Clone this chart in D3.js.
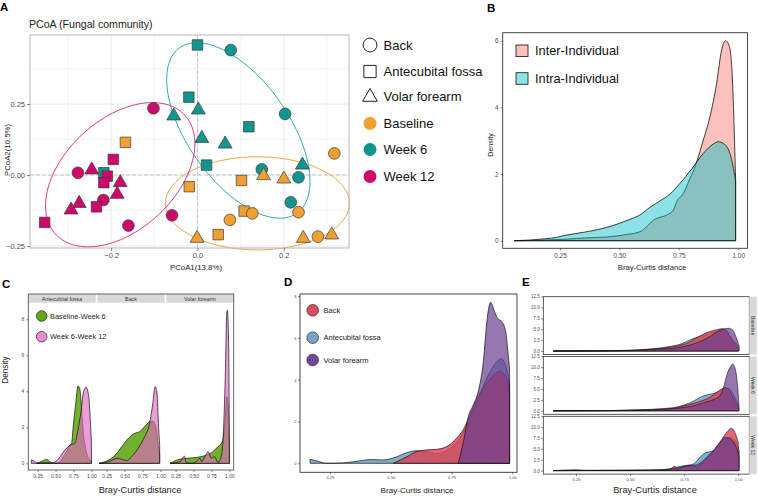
<!DOCTYPE html>
<html><head><meta charset="utf-8">
<script src="https://cdn.jsdelivr.net/npm/d3@7"></script>
<style>body{margin:0;background:#fff}svg{display:block;font-family:"Liberation Sans",Arial,Helvetica,sans-serif}</style>
</head><body><svg id="fig" width="758" height="498"></svg>
<script>
// ================= DATA =================
const timeLevels = ["Baseline", "Week 6", "Week 12"];
const siteLevels = ["Back", "Antecubital fossa", "Volar forearm"];
const timeColors = ["#F0A032", "#11968F", "#CC0A69"];
const ellipseColors = ["#F2A444", "#2BA9A5", "#E0338A"];

// Panel A: PCoA coordinates
const pcoa1 = [
  0.000, 0.077, -0.020, 0.002, -0.055, 0.203, 0.119, 0.010, 0.064, 0.021, 0.149, 0.243, 0.234, 0.216, -0.217,
  -0.167, 0.317, 0.153, 0.200, 0.102, -0.019, 0.108, 0.127, 0.234, 0.075, 0.048, -0.001, 0.245, 0.279, 0.311,
  -0.102, -0.195, -0.245, -0.277, -0.209, -0.217, -0.179, -0.186, -0.218, -0.274, -0.293, -0.234, -0.059, -0.160, -0.354];
const pcoa2 = [
  0.458, 0.440, 0.274, 0.229, 0.208, 0.215, 0.170, 0.129, 0.109, 0.035, 0.020, 0.035, -0.008, -0.096, 0.008,
  0.115, 0.076, -0.002, -0.014, -0.019, -0.041, -0.127, -0.135, -0.131, -0.158, -0.210, -0.223, -0.223, -0.217, -0.211,
  0.235, 0.055, 0.018, 0.008, -0.004, -0.027, -0.027, -0.068, -0.088, -0.100, -0.123, -0.112, -0.142, -0.178, -0.167];
const pcoaTime = [
  "Week 6","Week 6","Week 6","Week 6","Week 6","Week 6","Week 6","Week 6","Week 6","Week 6","Week 6","Week 6","Week 6","Week 6","Week 6",
  "Baseline","Baseline","Baseline","Baseline","Baseline","Baseline","Baseline","Baseline","Baseline","Baseline","Baseline","Baseline","Baseline","Baseline","Baseline",
  "Week 12","Week 12","Week 12","Week 12","Week 12","Week 12","Week 12","Week 12","Week 12","Week 12","Week 12","Week 12","Week 12","Week 12","Week 12"];
const pcoaSite = [
  "Antecubital fossa","Back","Antecubital fossa","Volar forearm","Volar forearm","Back","Antecubital fossa","Volar forearm","Volar forearm","Antecubital fossa","Back","Volar forearm","Back","Back","Antecubital fossa",
  "Antecubital fossa","Back","Volar forearm","Volar forearm","Antecubital fossa","Antecubital fossa","Antecubital fossa","Back","Back","Back","Antecubital fossa","Volar forearm","Volar forearm","Back","Volar forearm",
  "Back","Antecubital fossa","Volar forearm","Back","Antecubital fossa","Antecubital fossa","Volar forearm","Volar forearm","Back","Volar forearm","Volar forearm","Antecubital fossa","Back","Back","Antecubital fossa"];
// ellipse parameters (data units): centre, half-extent x, half-extent y, correlation
const ellipseTime = ["Baseline", "Week 6", "Week 12"];
const ellipseCx = [0.139, 0.0946, -0.179];
const ellipseCy = [-0.0997, 0.157, 0.001];
const ellipseSx = [0.213, 0.166, 0.173];
const ellipseSy = [0.164, 0.309, 0.254];
const ellipseR  = [0.0, -0.58, 0.43];
const aXTicks = [-0.2, 0, 0.2];
const aYTicks = [-0.25, 0, 0.25];

// Panel B: density of Bray-Curtis distances
const bGroups = ["Inter-Individual", "Intra-Individual"];
const interDensity = [[0.058,0],[0.15,0.01],[0.264,0.04],[0.376,0.09],[0.447,0.11],[0.516,0.17],[0.587,0.27],[0.615,0.42],[0.64,0.6],[0.657,0.67],[0.699,0.77],[0.727,0.92],[0.741,1.17],[0.769,1.42],[0.797,1.87],[0.818,2.22],[0.853,3.02],[0.881,3.72],[0.909,4.72],[0.930,5.72],[0.947,6.0],[0.963,5.82],[0.975,4.92],[0.989,1.82]];
const intraDensity = [[0.058,0],[0.124,0.02],[0.19,0.06],[0.236,0.1],[0.264,0.15],[0.348,0.25],[0.447,0.4],[0.5,0.52],[0.544,0.64],[0.586,0.77],[0.628,1.0],[0.67,1.19],[0.713,1.4],[0.755,1.72],[0.804,2.15],[0.853,2.62],[0.895,2.9],[0.916,2.97],[0.937,2.92],[0.965,2.62],[0.989,1.82]];
const bXTicks = [0.25, 0.5, 0.75, 1.0];
const bYTicks = [0, 2, 4, 6];

// Panel C: per site, Baseline-Week 6 vs Week 6-Week 12
const cGroups = ["Baseline-Week 6", "Week 6-Week 12"];
const cFacets = ["Antecubital fossa", "Back", "Volar forearm"];
const cBaseW6 = {
  "Antecubital fossa": [[0.235,0],[0.30,0.1],[0.38,0.22],[0.44,0.03],[0.47,0],[0.56,0.05],[0.608,0.37],[0.654,0.65],[0.699,1.0],[0.722,1.05],[0.745,2.0],[0.781,3.3],[0.813,4.3],[0.84,4.1],[0.86,3.2],[0.88,2.0],[0.92,0.8],[0.96,0.3],[1.0,0.15]],
  "Back": [[0.144,0],[0.28,0.19],[0.371,0.46],[0.462,0.93],[0.553,1.39],[0.644,1.67],[0.712,1.76],[0.78,2.04],[0.849,2.31],[0.894,2.35],[0.94,1.94],[0.971,1.0],[0.99,0.5]],
  "Volar forearm": [[0.171,0],[0.271,0.19],[0.408,0.28],[0.544,0.33],[0.681,0.46],[0.772,0.65],[0.84,0.93],[0.886,1.1],[0.918,1.5],[0.945,2.6],[0.963,3.7],[0.981,3.3],[1.0,1.0]]
};
const cW6W12 = {
  "Antecubital fossa": [[0.162,0.19],[0.2,0.12],[0.244,0],[0.30,0.02],[0.449,0.03],[0.52,0.15],[0.563,0.37],[0.631,0.74],[0.699,1.0],[0.768,1.1],[0.813,1.85],[0.858,2.96],[0.89,3.98],[0.927,4.22],[0.963,3.7],[0.99,2.0],[1.0,1.2]],
  "Back": [[0.144,0],[0.28,0.09],[0.394,0.28],[0.462,0.22],[0.53,0.15],[0.599,0.37],[0.69,0.83],[0.78,1.48],[0.849,2.2],[0.894,3.33],[0.926,4.26],[0.953,3.9],[0.975,2.0],[0.99,1.0]],
  "Volar forearm": [[0.171,0],[0.317,0.09],[0.371,0.4],[0.399,0.04],[0.453,0],[0.521,0.04],[0.59,0.28],[0.612,0.09],[0.658,0.37],[0.704,0.65],[0.749,0.28],[0.795,0.37],[0.84,0.04],[0.886,0.37],[0.918,1.85],[0.945,5.2],[0.963,8.33],[0.972,8.5],[0.99,6.5],[1.0,0.5]]
};
const cXTicks = [0.25, 0.5, 0.75, 1.0];
const cYTicks = [0, 2, 4, 6, 8];

// Panel D: per site densities
const dAnte = [[0.168,0.2],[0.2,0.1],[0.236,0.0],[0.305,0.02],[0.373,0.12],[0.415,0.18],[0.469,0.16],[0.524,0.31],[0.566,0.51],[0.607,0.6],[0.648,0.55],[0.689,0.45],[0.73,0.6],[0.785,1.2],[0.826,2.1],[0.87,3.4],[0.92,4.6],[0.955,5.0],[0.975,4.6],[0.989,3.8]];
const dBack = [[0.51,0],[0.566,0.31],[0.607,0.56],[0.648,0.64],[0.689,0.67],[0.73,0.8],[0.771,1.2],[0.798,1.6],[0.826,2.3],[0.86,3.2],[0.9,3.9],[0.95,4.4],[0.975,4.1],[0.989,3.4]];
const dVolar = [[0.778,0],[0.799,1.03],[0.819,2.23],[0.84,2.8],[0.86,3.43],[0.881,4.86],[0.897,6.94],[0.911,7.7],[0.925,7.33],[0.939,6.94],[0.957,6.78],[0.973,6.3],[0.982,5.34],[0.989,4.5]];
const dXTicks = [0.25, 0.5, 0.75, 1.0];
const dYTicks = [0, 2, 4, 6, 8];

// Panel E: per timepoint, per site
const eFacets = ["Baseline", "Week 6", "Week 12"];
const eBack = {
  "Baseline": [[0.145,0],[0.3,0.02],[0.45,0.1],[0.55,0.25],[0.62,0.5],[0.68,0.85],[0.74,1.4],[0.78,2.2],[0.82,3.4],[0.86,4.3],[0.9,4.9],[0.925,5.1],[0.945,4.8],[0.97,2.6],[0.99,1.4],[1.0,1.0]],
  "Week 6": [[0.145,0],[0.4,0.05],[0.55,0.2],[0.65,0.4],[0.7,0.6],[0.746,1.1],[0.807,1.9],[0.869,3.1],[0.9,4.2],[0.923,5.0],[0.945,5.3],[0.965,4.0],[0.985,2.0],[1.0,1.0]],
  "Week 12": [[0.145,0],[0.3,0.05],[0.45,0.05],[0.6,0.1],[0.68,0.2],[0.707,1.0],[0.722,0.4],[0.746,0.8],[0.777,1.1],[0.807,0.8],[0.838,1.9],[0.869,3.4],[0.9,5.35],[0.93,7.6],[0.954,9.2],[0.969,9.7],[0.984,8.8],[1.0,6.5]]
};
const eAnte = {
  "Baseline": [[0.145,0],[0.3,0.02],[0.45,0.1],[0.55,0.3],[0.62,0.6],[0.68,1.0],[0.74,1.7],[0.78,2.6],[0.82,3.3],[0.86,3.9],[0.9,4.5],[0.93,4.6],[0.955,3.8],[0.98,2.2],[1.0,1.2]],
  "Week 6": [[0.145,0],[0.4,0.05],[0.55,0.25],[0.65,0.5],[0.72,0.9],[0.78,1.9],[0.838,3.4],[0.869,3.8],[0.915,4.5],[0.94,5.3],[0.96,5.0],[0.98,3.5],[1.0,1.5]],
  "Week 12": [[0.145,0],[0.3,0.03],[0.5,0.05],[0.65,0.2],[0.746,1.1],[0.792,1.5],[0.83,3.4],[0.853,4.2],[0.877,4.4],[0.9,5.0],[0.93,6.9],[0.961,7.6],[0.984,6.9],[1.004,4.6]]
};
const eVolar = {
  "Baseline": [[0.145,0],[0.3,0.01],[0.45,0.08],[0.55,0.2],[0.62,0.4],[0.684,0.55],[0.76,1.15],[0.822,2.14],[0.869,3.3],[0.907,4.6],[0.938,5.1],[0.954,5.2],[0.974,4.8],[0.989,3.3],[1.004,1.1]],
  "Week 6": [[0.145,0],[0.4,0.05],[0.55,0.15],[0.65,0.3],[0.72,0.6],[0.78,1.0],[0.83,1.7],[0.87,2.3],[0.907,3.1],[0.93,5.0],[0.946,8.0],[0.961,9.9],[0.974,10.7],[0.986,9.6],[0.998,5.0],[1.004,0.4]],
  "Week 12": [[0.145,0],[0.25,0.2],[0.3,0.05],[0.45,0.1],[0.6,0.15],[0.715,0.5],[0.76,1.1],[0.807,1.3],[0.853,3.0],[0.885,4.6],[0.915,6.5],[0.938,7.6],[0.961,7.3],[0.984,6.1],[1.004,3.4]]
};
const eXTicks = [0.25, 0.5, 0.75, 1.0];
const eYTicks = [0, 2.5, 5, 7.5, 10, 12.5];

// ================= DRAW =================
const FONT = '"Liberation Sans", Arial, Helvetica, sans-serif';
const svg = d3.select("#fig");

function label(t, x, y, size, opts = {}) {
  const el = svg.append("text").attr("x", x).attr("y", y).text(t)
    .attr("font-size", size).attr("fill", opts.fill || "#000")
    .attr("font-family", FONT)
    .attr("text-anchor", opts.anchor || "start");
  if (opts.bold) el.attr("font-weight", "bold");
  if (opts.rotate) el.attr("transform", `rotate(${opts.rotate},${x},${y})`);
  if (opts.baseline) el.attr("dominant-baseline", opts.baseline);
  return el;
}
function styleAxis(g, fs) {
  g.select(".domain").remove();
  g.selectAll(".tick line").attr("stroke", "#333").attr("stroke-width", 0.6);
  g.selectAll(".tick text").attr("font-size", fs).attr("fill", "#4d4d4d").attr("font-family", FONT);
}
function densArea(x, y) {
  return d3.area().x(d => x(d[0])).y0(y(0)).y1(d => y(d[1])).curve(d3.curveMonotoneX);
}
function drawDensity(g, data, x, y, fill, op, sw) {
  g.append("path").attr("d", densArea(x, y)(data))
    .attr("fill", fill).attr("fill-opacity", op)
    .attr("stroke", "#111").attr("stroke-width", sw || 0.7).attr("stroke-linejoin", "round");
}

// ---------- Panel A ----------
{
  const x = d3.scaleLinear().domain([-0.388, 0.351]).range([30, 349]);
  const y = d3.scaleLinear().domain([-0.257, 0.493]).range([248, 35]);
  const g = svg.append("g");
  const xs = aXTicks[1] - aXTicks[0], ys = aYTicks[1] - aYTicks[0];
  const xMinor = [aXTicks[0] - xs / 2, ...aXTicks.map(t => t + xs / 2)].filter(v => v > x.domain()[0] && v < x.domain()[1]);
  const yMinor = [aYTicks[0] - ys / 2, ...aYTicks.map(t => t + ys / 2)].filter(v => v > y.domain()[0] && v < y.domain()[1]);
  xMinor.forEach(v => g.append("line").attr("x1", x(v)).attr("x2", x(v)).attr("y1", y.range()[0]).attr("y2", y.range()[1]).attr("stroke", "#F0F0F0").attr("stroke-width", 0.6));
  yMinor.forEach(v => g.append("line").attr("y1", y(v)).attr("y2", y(v)).attr("x1", x.range()[0]).attr("x2", x.range()[1]).attr("stroke", "#F0F0F0").attr("stroke-width", 0.6));
  aXTicks.forEach(v => g.append("line").attr("x1", x(v)).attr("x2", x(v)).attr("y1", y.range()[0]).attr("y2", y.range()[1]).attr("stroke", "#E8E8E8").attr("stroke-width", 0.9));
  aYTicks.forEach(v => g.append("line").attr("y1", y(v)).attr("y2", y(v)).attr("x1", x.range()[0]).attr("x2", x.range()[1]).attr("stroke", "#E8E8E8").attr("stroke-width", 0.9));
  // zero reference lines
  g.append("line").attr("x1", x(0)).attr("x2", x(0)).attr("y1", y.range()[0]).attr("y2", y.range()[1]).attr("stroke", "#BDBDBD").attr("stroke-width", 0.8).attr("stroke-dasharray", "4,2");
  g.append("line").attr("y1", y(0)).attr("y2", y(0)).attr("x1", x.range()[0]).attr("x2", x.range()[1]).attr("stroke", "#BDBDBD").attr("stroke-width", 0.8).attr("stroke-dasharray", "4,2");

  // ellipses
  const tt = d3.range(0, 2 * Math.PI, Math.PI / 90);
  ellipseTime.forEach((tm, i) => {
    const pts = tt.map(t => [ellipseCx[i] + ellipseSx[i] * Math.cos(t),
      ellipseCy[i] + ellipseSy[i] * (ellipseR[i] * Math.cos(t) + Math.sqrt(1 - ellipseR[i] ** 2) * Math.sin(t))]);
    g.append("path").attr("d", d3.line().x(d => x(d[0])).y(d => y(d[1])).curve(d3.curveLinearClosed)(pts))
      .attr("fill", "none").attr("stroke", ellipseColors[timeLevels.indexOf(tm)]).attr("stroke-width", 1);
  });

  // points
  const symType = { "Back": d3.symbolCircle, "Antecubital fossa": d3.symbolSquare, "Volar forearm": d3.symbolTriangle };
  const symSize = { "Back": 108, "Antecubital fossa": 110, "Volar forearm": 84 };
  const idx = d3.range(pcoa1.length);
  g.selectAll(".pt").data(idx).join("path")
    .attr("transform", i => `translate(${x(pcoa1[i])},${y(pcoa2[i])})`)
    .attr("d", i => d3.symbol().type(symType[pcoaSite[i]]).size(symSize[pcoaSite[i]])())
    .attr("fill", i => timeColors[timeLevels.indexOf(pcoaTime[i])])
    .attr("stroke", "#3a3a3a").attr("stroke-width", 0.7);

  g.append("rect").attr("x", 30).attr("y", 35).attr("width", 319).attr("height", 213)
    .attr("fill", "none").attr("stroke", "#B8B8B8").attr("stroke-width", 1);

  const ax = g.append("g").attr("transform", "translate(0,248)")
    .call(d3.axisBottom(x).tickValues(aXTicks).tickSize(3).tickPadding(2).tickFormat(d3.format(".1f")));
  styleAxis(ax, 7.5);
  const ay = g.append("g").attr("transform", "translate(30,0)")
    .call(d3.axisLeft(y).tickValues(aYTicks).tickSize(3).tickPadding(2).tickFormat(d3.format(".2f")));
  styleAxis(ay, 7.5);

  label("PCoA (Fungal community)", 29, 28, 10.6, { fill: "#222" });
  label("PCoA1(13.8%)", 196, 270, 7.8, { anchor: "middle", fill: "#222" });
  label("PCoA2(10.5%)", 10, 150, 7.8, { anchor: "middle", rotate: -90, fill: "#222" });

  // legend
  const rowsY = [45, 71.5, 96, 123.3, 149.5, 176.5];
  siteLevels.forEach((s, i) => {
    const sz = { "Back": 150, "Antecubital fossa": 150, "Volar forearm": 95 }[s];
    g.append("path").attr("transform", `translate(370,${rowsY[i] + (s === "Volar forearm" ? 1 : 0)})`)
      .attr("d", d3.symbol().type(symType[s]).size(sz)()).attr("fill", "#fff").attr("stroke", "#222").attr("stroke-width", 1);
    label(s, 383.5, rowsY[i], 13, { baseline: "central", fill: "#111" });
  });
  timeLevels.forEach((t, i) => {
    g.append("circle").attr("cx", 370).attr("cy", rowsY[i + 3]).attr("r", 6.5).attr("fill", timeColors[i]);
    label(t, 383.5, rowsY[i + 3], 13, { baseline: "central", fill: "#111" });
  });
  label("A", 0, 11, 11.5, { bold: true });
}

// ---------- Panel B ----------
{
  const x = d3.scaleLinear().domain([0.009, 1.039]).range([502.7, 747.5]);
  const y = d3.scaleLinear().domain([-0.228, 6.24]).range([248.3, 32.7]);
  const g = svg.append("g");
  const bCols = ["#F8766D", "#00BFC4"];
  drawDensity(g, interDensity, x, y, bCols[0], 0.45, 0.8);
  drawDensity(g, intraDensity, x, y, bCols[1], 0.45, 0.8);
  g.append("rect").attr("x", 502.7).attr("y", 32.7).attr("width", 244.8).attr("height", 215.6)
    .attr("fill", "none").attr("stroke", "#333").attr("stroke-width", 0.9);
  const ax = g.append("g").attr("transform", "translate(0,248.3)")
    .call(d3.axisBottom(x).tickValues(bXTicks).tickSize(2).tickPadding(3).tickFormat(d3.format(".2f")));
  styleAxis(ax, 6.5);
  const ay = g.append("g").attr("transform", "translate(502.7,0)")
    .call(d3.axisLeft(y).tickValues(bYTicks).tickSize(2).tickPadding(2).tickFormat(d3.format("d")));
  styleAxis(ay, 6.5);
  label("Bray-Curtis distance", 652, 270, 7.6, { anchor: "middle", fill: "#222" });
  label("Density", 493, 145, 7, { anchor: "middle", rotate: -90, fill: "#222" });
  const keyY = [45, 72.7];
  bGroups.forEach((gname, i) => {
    g.append("rect").attr("x", 516).attr("y", keyY[i]).attr("width", 12).attr("height", 11.6)
      .attr("fill", bCols[i]).attr("fill-opacity", 0.45).attr("stroke", "#111").attr("stroke-width", 0.8);
    label(gname, 535, keyY[i] + 5.8, 12.8, { baseline: "central", fill: "#111" });
  });
  label("B", 487, 12, 11.5, { bold: true });
}

// ---------- Panel C ----------
{
  const facetL = [28.3, 97.3, 166.3], facetW = 67.4;
  const top = 294, stripH = 8.7, bottom = 470;
  const y = d3.scaleLinear().domain([-0.37, 8.92]).range([bottom, top + stripH]);
  const g = svg.append("g");
  const cCols = ["#62A814", "#E065C0"], cOps = [0.9, 0.64];
  cFacets.forEach((f, i) => {
    const x = d3.scaleLinear().domain([0.12, 1.06]).range([facetL[i], facetL[i] + facetW]);
    g.append("rect").attr("x", facetL[i]).attr("y", top).attr("width", facetW).attr("height", stripH).attr("fill", "#D9D9D9");
    label(f, facetL[i] + facetW / 2, top + stripH / 2 + 0.3, 5.3, { anchor: "middle", baseline: "central", fill: "#333" });
    drawDensity(g, cBaseW6[f], x, y, cCols[0], cOps[0], 0.7);
    drawDensity(g, cW6W12[f], x, y, cCols[1], cOps[1], 0.7);
    const ax = g.append("g").attr("transform", `translate(0,${bottom})`)
      .call(d3.axisBottom(x).tickValues(cXTicks).tickSize(2).tickPadding(2).tickFormat(d3.format(".2f")));
    styleAxis(ax, 5);
  });
  g.append("rect").attr("x", facetL[0]).attr("y", top).attr("width", facetL[2] + facetW - facetL[0]).attr("height", bottom - top)
    .attr("fill", "none").attr("stroke", "#555").attr("stroke-width", 0.9);
  const ay = g.append("g").attr("transform", `translate(${facetL[0]},0)`)
    .call(d3.axisLeft(y).tickValues(cYTicks).tickSize(2).tickPadding(2).tickFormat(d3.format("d")));
  styleAxis(ay, 5);
  label("Bray-Curtis distance", 140, 493, 9.2, { anchor: "middle", fill: "#222" });
  label("Density", 8, 370, 8.2, { anchor: "middle", rotate: -90, fill: "#222" });
  const legY = [316, 336.7];
  cGroups.forEach((gname, i) => {
    g.append("circle").attr("cx", 41.7).attr("cy", legY[i]).attr("r", 5.3)
      .attr("fill", cCols[i]).attr("fill-opacity", i === 0 ? 1 : 0.75).attr("stroke", "#222").attr("stroke-width", 0.7);
    label(gname, 50, legY[i], 7.4, { baseline: "central", fill: "#222" });
  });
  label("C", 2, 288, 11.5, { bold: true });
}

// ---------- Panel D ----------
const siteCols = { "Back": "#DC4452", "Antecubital fossa": "#6FA0C5", "Volar forearm": "#6A3F8E" };
const siteOps = { "Back": 0.82, "Antecubital fossa": 0.85, "Volar forearm": 0.7 };
{
  const x = d3.scaleLinear().domain([0.1265, 1.0195]).range([300, 517]);
  const y = d3.scaleLinear().domain([-0.43, 8.1]).range([472.3, 294]);
  const g = svg.append("g");
  drawDensity(g, dAnte, x, y, siteCols["Antecubital fossa"], siteOps["Antecubital fossa"], 0.7);
  drawDensity(g, dBack, x, y, siteCols["Back"], siteOps["Back"], 0.7);
  drawDensity(g, dVolar, x, y, siteCols["Volar forearm"], siteOps["Volar forearm"], 0.7);
  g.append("rect").attr("x", 300).attr("y", 294).attr("width", 217).attr("height", 178.3)
    .attr("fill", "none").attr("stroke", "#333").attr("stroke-width", 0.9);
  const ax = g.append("g").attr("transform", "translate(0,472.3)")
    .call(d3.axisBottom(x).tickValues(dXTicks).tickSize(2).tickPadding(2).tickFormat(d3.format(".2f")));
  styleAxis(ax, 4.2);
  const ay = g.append("g").attr("transform", "translate(300,0)")
    .call(d3.axisLeft(y).tickValues(dYTicks).tickSize(2).tickPadding(1.5).tickFormat(d3.format("d")));
  styleAxis(ay, 4.2);
  label("Bray-Curtis distance", 417, 493, 8.1, { anchor: "middle", fill: "#222" });
  const legY = [310.3, 337.7, 360];
  siteLevels.forEach((s, i) => {
    g.append("circle").attr("cx", 312.7).attr("cy", legY[i]).attr("r", 5.8)
      .attr("fill", siteCols[s]).attr("fill-opacity", 0.95).attr("stroke", "#222").attr("stroke-width", 0.7);
    label(s, 323.5, legY[i], 7.5, { baseline: "central", fill: "#222" });
  });
  label("D", 284, 286, 11.5, { bold: true });
}

// ---------- Panel E ----------
{
  const x = d3.scaleLinear().domain([0.099, 1.051]).range([543.3, 749.3]);
  const tops = [296.7, 356.5, 416.3], fh = 57.8;
  const g = svg.append("g");
  eFacets.forEach((f, i) => {
    const y = d3.scaleLinear().domain([-0.8, 12.45]).range([tops[i] + fh, tops[i]]);
    drawDensity(g, eAnte[f], x, y, siteCols["Antecubital fossa"], siteOps["Antecubital fossa"], 0.6);
    drawDensity(g, eBack[f], x, y, siteCols["Back"], siteOps["Back"], 0.6);
    drawDensity(g, eVolar[f], x, y, siteCols["Volar forearm"], siteOps["Volar forearm"], 0.6);
    g.append("rect").attr("x", 543.3).attr("y", tops[i]).attr("width", 206).attr("height", fh)
      .attr("fill", "none").attr("stroke", "#333").attr("stroke-width", 0.8);
    g.append("rect").attr("x", 749.3).attr("y", tops[i]).attr("width", 7.5).attr("height", fh).attr("fill", "#D9D9D9");
    label(f, 753, tops[i] + fh / 2, 5, { anchor: "middle", baseline: "central", rotate: 90, fill: "#333" });
    const ay = g.append("g").attr("transform", "translate(543.3,0)")
      .call(d3.axisLeft(y).tickValues(eYTicks).tickSize(2).tickPadding(1.5).tickFormat(d3.format(".1f")));
    styleAxis(ay, 4.5);
  });
  const ax = g.append("g").attr("transform", `translate(0,${tops[2] + fh})`)
    .call(d3.axisBottom(x).tickValues(eXTicks).tickSize(2).tickPadding(2).tickFormat(d3.format(".2f")));
  styleAxis(ax, 4.2);
  label("Bray-Curtis distance", 655, 493, 9.3, { anchor: "middle", fill: "#222" });
  label("E", 522, 286, 11.5, { bold: true });
}
</script></body></html>
